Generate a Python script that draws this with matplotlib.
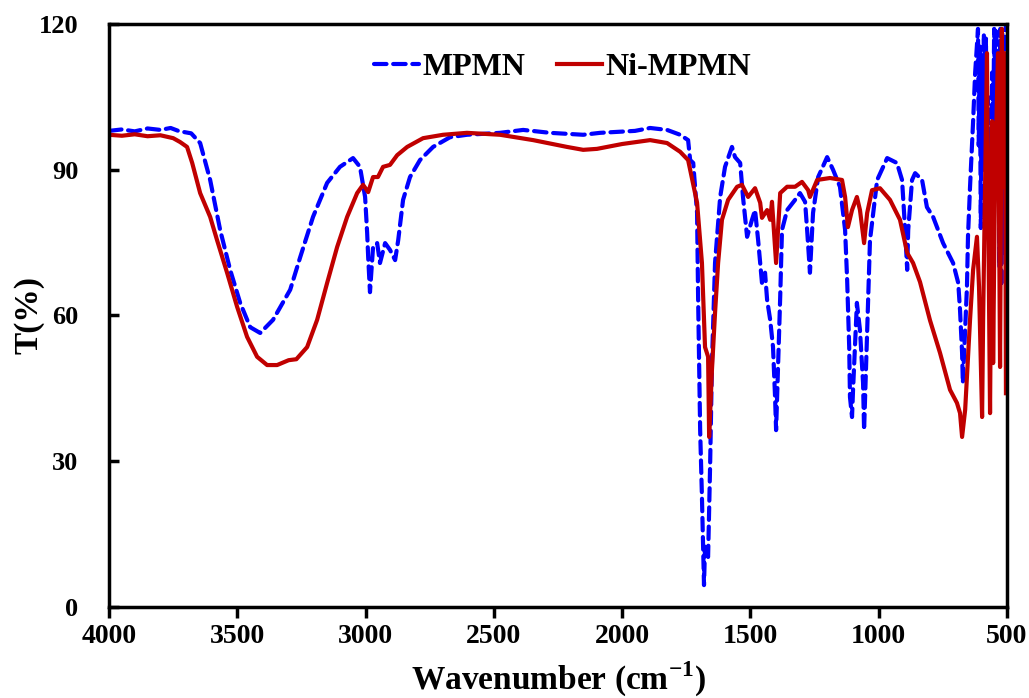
import matplotlib
matplotlib.use('Agg')
import matplotlib.pyplot as plt

plt.rcParams['font.family'] = ['Liberation Serif', 'DejaVu Serif']
plt.rcParams['font.weight'] = 'bold'
plt.rcParams['mathtext.fontset'] = 'custom'
plt.rcParams['mathtext.bf'] = 'Liberation Serif:bold'
plt.rcParams['mathtext.rm'] = 'Liberation Serif:bold'

# MPMN (blue dashed)
mpmn_wn = [4000, 3950, 3900, 3850, 3800, 3760, 3730, 3712, 3680, 3645, 3606, 3567, 3528,
           3489, 3450, 3411, 3361, 3294, 3255, 3205, 3150, 3100, 3049, 3022, 3002, 2994,
           2990, 2983, 2971, 2955, 2944, 2924, 2905, 2885, 2873, 2854, 2827, 2788, 2737,
           2671, 2605, 2476, 2386, 2281, 2152, 2086, 1950, 1891, 1825, 1774, 1743, 1735,
           1723, 1708, 1704, 1696, 1689, 1681, 1677, 1665, 1657, 1650, 1638, 1618, 1599,
           1572, 1560, 1540, 1529, 1513, 1494, 1482, 1470, 1455, 1443, 1435, 1423, 1412,
           1404, 1400, 1392, 1384, 1377, 1357, 1326, 1307, 1287, 1279, 1268, 1256, 1236,
           1201, 1178, 1151, 1131, 1123, 1115, 1112, 1104, 1100, 1085, 1073, 1061, 1057,
           1045, 1034, 1006, 967, 929, 909, 897, 889, 885, 870, 858, 831, 812, 788, 749,
           710, 690, 683, 675, 672, 656, 652, 644, 632, 624, 613, 610, 606, 602, 598, 594,
           590, 586, 582, 578, 574, 570, 566, 562, 558, 554, 550, 546, 542, 538, 534, 530,
           526, 522, 518, 514, 510, 506, 502, 500]
mpmn_t = [98.0, 98.3, 97.9, 98.5, 98.2, 98.6, 98.0, 97.8, 97.5, 95.5, 87.9, 77.6, 69.4,
          62.6, 57.6, 56.4, 59.1, 65.3, 72.0, 80.3, 87.3, 90.6, 92.4, 90.6, 84.4, 77.0,
          72.0, 64.8, 74.1, 74.9, 70.8, 74.9, 73.5, 71.4, 75.5, 83.8, 88.5, 92.0, 94.7,
          96.7, 97.2, 97.6, 98.2, 97.6, 97.2, 97.6, 98.0, 98.6, 98.2, 97.2, 96.1, 92.0,
          91.4, 81.1, 63.8, 36.4, 22.6, 4.5, 12.4, 10.3, 29.6, 50.2, 70.8, 84.4, 90.6,
          94.7, 92.6, 91.4, 84.4, 76.2, 79.7, 81.7, 75.5, 66.7, 68.8, 63.2, 59.1, 53.5,
          43.2, 36.4, 50.2, 63.8, 77.6, 81.7, 83.8, 85.2, 83.4, 77.6, 68.8, 81.1, 88.5,
          92.6, 90.0, 86.5, 77.6, 67.3, 53.5, 43.2, 39.1, 44.7, 62.6, 57.0, 46.1, 36.4,
          57.0, 75.5, 87.9, 92.4, 91.4, 87.9, 77.6, 69.4, 77.6, 87.9, 89.3, 87.9, 82.3, 80.3, 74.9,
          70.8, 66.7, 61.1, 52.3, 46.1, 65.9, 76.2, 86.5, 100, 110, 119, 95, 116, 78, 112, 90,
          118, 100, 117, 88, 105, 76, 98, 82, 110, 95, 119, 100, 119, 85, 110, 70,
          119, 66, 118, 105, 73, 119, 120, 75]

# Ni-MPMN (red solid)
ni_wn = [4000, 3950, 3900, 3850, 3800, 3750, 3723, 3696, 3676, 3645, 3606, 3579, 3540,
         3501, 3462, 3423, 3384, 3345, 3300, 3270, 3228, 3189, 3150, 3111, 3072, 3033,
         3010, 2990, 2971, 2952, 2932, 2905, 2877, 2838, 2776, 2698, 2605, 2476, 2347,
         2215, 2152, 2098, 2000, 1891, 1825, 1774, 1743, 1735, 1708, 1689, 1677, 1665,
         1661, 1650, 1638, 1626, 1611, 1587, 1552, 1533, 1509, 1482, 1462, 1455, 1435,
         1423, 1416, 1400, 1384, 1357, 1326, 1299, 1275, 1268, 1240, 1190, 1143, 1131,
         1120, 1104, 1085, 1073, 1057, 1045, 1026, 995, 956, 917, 889, 866, 839, 800,
         761, 722, 695, 683, 675, 663, 644, 632, 617, 609, 597, 593, 578, 574, 566, 558,
         554, 547, 535, 527, 520, 516, 508, 504]
ni_t = [97.2, 97.0, 97.3, 96.9, 97.1, 96.5, 95.7, 94.7, 91.4, 85.2, 80.3, 75.5, 68.8,
        61.8, 55.6, 51.5, 49.8, 49.8, 50.8, 51.0, 53.5, 59.1, 66.7, 74.1, 80.3, 85.2,
        86.9, 85.4, 88.5, 88.5, 90.6, 91.0, 93.0, 94.7, 96.5, 97.2, 97.6, 97.2, 96.1,
        94.7, 94.1, 94.3, 95.3, 96.1, 95.5, 93.7, 92.0, 90.0, 83.2, 70.8, 53.5, 51.5,
        35.0, 48.8, 60.5, 70.8, 79.7, 83.8, 86.5, 86.9, 84.4, 86.2, 83.2, 80.1, 81.7,
        79.7, 83.4, 70.8, 85.2, 86.5, 86.5, 87.5, 85.8, 84.4, 87.9, 88.3, 87.9, 84.4,
        78.2, 81.7, 84.4, 81.7, 74.9, 81.1, 85.8, 86.2, 83.8, 79.7, 72.9, 70.8, 66.9, 59.0,
        52.3, 44.7, 42.0, 39.9, 35.0, 40.6, 59.1, 69.4, 76.2, 65.9, 39.1, 59.1, 114, 86.5, 39.9, 100,
        50.2, 86.5, 114, 49.4, 119, 86.5, 114, 44]

x_ticks = [4000, 3500, 3000, 2500, 2000, 1500, 1000, 500]
y_ticks = [0, 30, 60, 90, 120]

fig = plt.figure(figsize=(10.29, 6.98), dpi=100)
ax = fig.add_axes([0.106, 0.1304, 0.8726, 0.8352])

ax.plot(mpmn_wn, mpmn_t, color='#0000FF', lw=3, linestyle=(0, (3, 1.6)),
        dash_capstyle='round', label='MPMN')
ax.plot(ni_wn, ni_t, color='#C00000', lw=3, label='Ni-MPMN')

ax.set_xlim(4000, 500)
ax.set_ylim(0, 120)
ax.set_xticks(x_ticks)
ax.set_yticks(y_ticks)
ax.tick_params(axis='x', direction='out', length=8, width=2.5, labelsize=20, pad=4)
ax.tick_params(axis='y', direction='in', length=7, width=2.5, labelsize=19, pad=22)
for s in ax.spines.values():
    s.set_linewidth(2.5)

ax.set_xlabel('Wavenumber (cm$^{\\mathbf{-1}}$)', fontsize=24, fontweight='bold', labelpad=8)
ax.set_ylabel('T(%)', fontsize=24, fontweight='bold', labelpad=-4)

ax.legend(loc='upper center', bbox_to_anchor=(0.505, 1.0), ncol=2, frameon=False,
          fontsize=23, handlelength=1.4, columnspacing=1.0, handletextpad=0.1)

fig.savefig('out.png', dpi=100)
